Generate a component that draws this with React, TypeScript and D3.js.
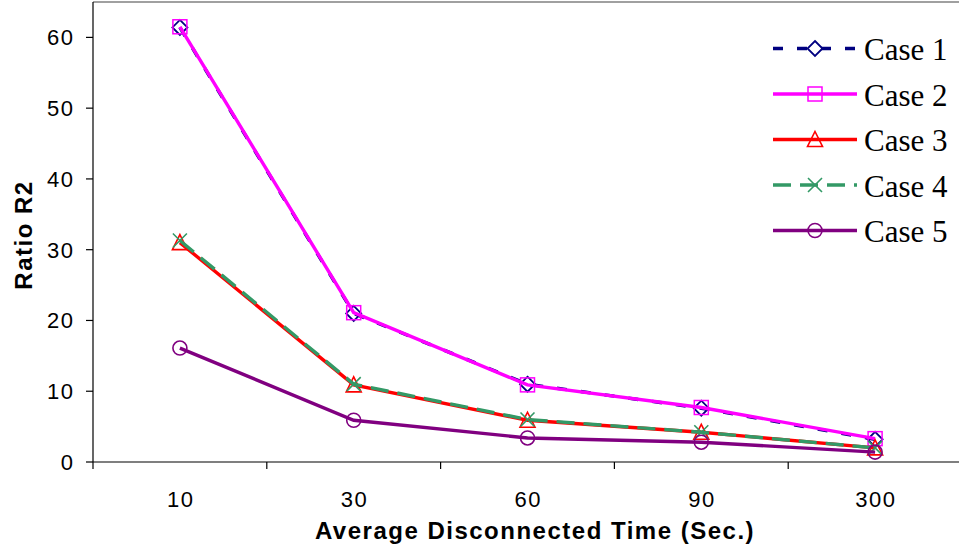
import React from "react";
import * as d3 from "d3";

const categories = ["10", "30", "60", "90", "300"];
const yTicks = [0, 10, 20, 30, 40, 50, 60];
const case1 = [61.4, 21.0, 11.0, 7.6, 3.2];
const case2 = [61.5, 21.1, 10.9, 7.7, 3.3];
const case3 = [31.0, 10.9, 5.9, 4.2, 2.0];
const case4 = [31.3, 11.0, 6.0, 4.2, 2.0];
const case5 = [16.1, 5.9, 3.4, 2.8, 1.4];

const seriesNames = ["Case 1", "Case 2", "Case 3", "Case 4", "Case 5"];
const seriesData = [case1, case2, case3, case4, case5];
const colors = ["#000080", "#FF00FF", "#FF0000", "#339966", "#800080"];
const dashes = ["10,14", "", "", "18,9", ""];
const markers = ["diamond", "square", "triangle", "x", "circle"];

function Marker({ type, x, y, color }: { type: string; x: number; y: number; color: string }) {
  if (type === "diamond") {
    const s = 7.5;
    return <path d={`M${x},${y - s} L${x + s},${y} L${x},${y + s} L${x - s},${y} Z`} fill="none" stroke={color} strokeWidth={1.8} />;
  }
  if (type === "square")
    return <rect x={x - 7} y={y - 7} width={14} height={14} fill="none" stroke={color} strokeWidth={1.5} />;
  if (type === "triangle")
    return <path d={`M${x},${y - 8} L${x + 7.5},${y + 7} L${x - 7.5},${y + 7} Z`} fill="none" stroke={color} strokeWidth={1.6} />;
  if (type === "x")
    return <path d={`M${x - 7},${y - 7} L${x + 7},${y + 7} M${x - 7},${y + 7} L${x + 7},${y - 7}`} fill="none" stroke={color} strokeWidth={1.6} />;
  return <circle cx={x} cy={y} r={7} fill="none" stroke={color} strokeWidth={1.6} />;
}

export default function App() {
  const left = 93, right = 962, top = 2, bottom = 462;
  const x = d3.scaleBand<string>().domain(categories).range([left, right]);
  const y = d3.scaleLinear().domain([0, 65]).range([bottom, top]);
  const cx = (c: string) => (x(c) as number) + x.bandwidth() / 2;
  const line = d3.line<number>().x((_, i) => cx(categories[i])).y((d) => y(d));
  const tickEdges = categories.map((c) => x(c) as number).concat([right]);
  const sans = "Liberation Sans, Arial";

  return (
    <svg width={959} height={552} style={{ position: "absolute", left: 0, top: 0 }}>
      <rect width={959} height={552} fill="#fff" />
      <line x1={left} x2={right} y1={top} y2={top} stroke="#808080" strokeWidth={1.5} />
      {/* Y axis */}
      <line x1={left} x2={left} y1={top} y2={bottom} stroke="#000" strokeWidth={1.2} />
      {yTicks.map((t) => (
        <g key={t}>
          <line x1={left - 7} x2={left} y1={y(t)} y2={y(t)} stroke="#000" strokeWidth={1.2} />
          <text x={74.5} y={y(t)} dy="0.36em" textAnchor="end" fontFamily={sans} fontSize={22} letterSpacing={1.5} fill="#000">{t}</text>
        </g>
      ))}
      {/* X axis */}
      <line x1={left} x2={right} y1={bottom} y2={bottom} stroke="#000" strokeWidth={1.2} />
      {tickEdges.map((e, i) => (
        <line key={i} x1={e} x2={e} y1={bottom} y2={bottom + 7} stroke="#000" strokeWidth={1.2} />
      ))}
      {categories.map((c) => (
        <text key={c} x={cx(c) + 0.75} y={507} textAnchor="middle" fontFamily={sans} fontSize={22} letterSpacing={1.5} fill="#000">{c}</text>
      ))}
      <text x={535} y={539} textAnchor="middle" fontFamily={sans} fontWeight="bold" fontSize={24} letterSpacing={1.5} fill="#000">Average Disconnected Time (Sec.)</text>
      <text transform={`translate(32,${235}) rotate(-90)`} textAnchor="middle" fontFamily={sans} fontWeight="bold" fontSize={24} letterSpacing={1.5} fill="#000">Ratio R2</text>
      {/* Series */}
      {seriesData.map((data, si) => (
        <g key={si}>
          <path d={line(data) as string} fill="none" stroke={colors[si]} strokeWidth={3.4} strokeDasharray={dashes[si] || undefined} />
          {data.map((v, i) => (
            <Marker key={i} type={markers[si]} x={cx(categories[i])} y={y(v)} color={colors[si]} />
          ))}
        </g>
      ))}
      {/* Legend */}
      {seriesNames.map((n, i) => {
        const ly = 48.5 + i * 45.5;
        return (
          <g key={n}>
            <line x1={773} x2={857} y1={ly} y2={ly} stroke={colors[i]} strokeWidth={3.4} strokeDasharray={dashes[i] || undefined} />
            <Marker type={markers[i]} x={815} y={ly} color={colors[i]} />
            <text x={864} y={ly + 11.5} fontFamily="Liberation Serif, Times New Roman" fontSize={31} fill="#000">{n}</text>
          </g>
        );
      })}
    </svg>
  );
}
